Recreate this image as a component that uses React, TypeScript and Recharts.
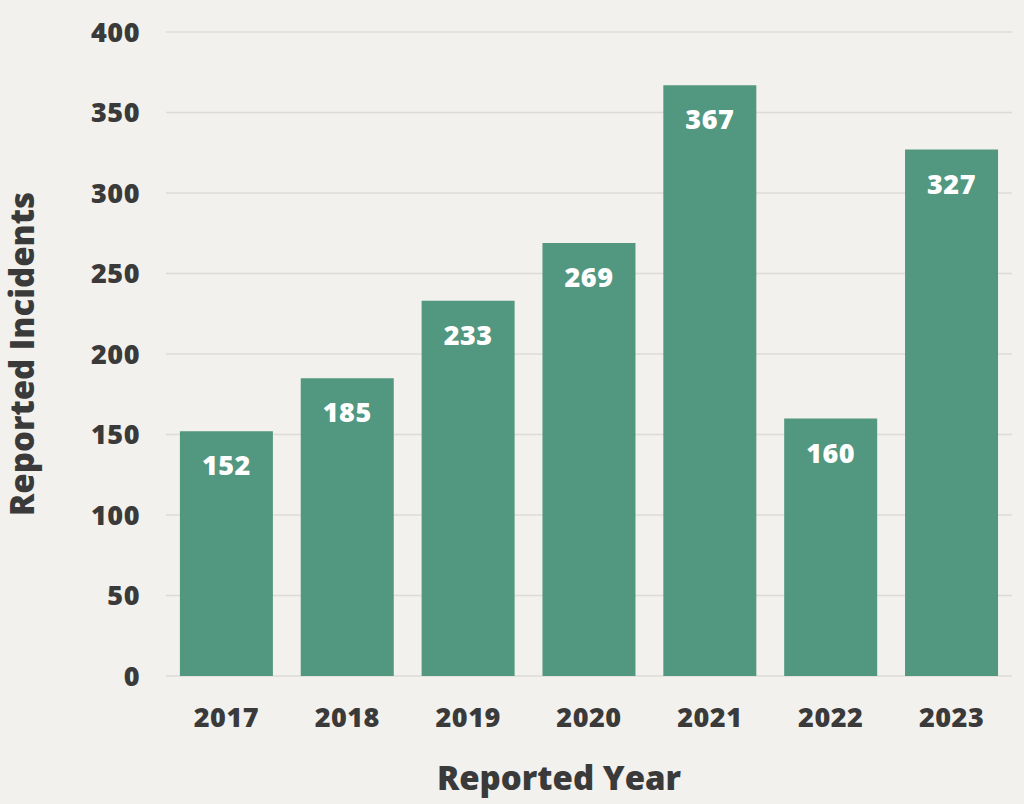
import React from "react";
import { BarChart, Bar, XAxis, YAxis, CartesianGrid, LabelList, Label } from "recharts";

const years = ["2017", "2018", "2019", "2020", "2021", "2022", "2023"];
const incidents = [152, 185, 233, 269, 367, 160, 327];
const yTicks = [0, 50, 100, 150, 200, 250, 300, 350, 400];

const data = years.map((year, i) => ({ year, incidents: incidents[i] }));

const FONT = "'Open Sans', Lato, sans-serif";
const INK = "#3a3a3a";

export default function App() {
  return (
    <div
      style={{
        position: "absolute",
        left: 0,
        top: 0,
        width: 1024,
        height: 804,
        background: "#f2f1ee",
        fontFamily: FONT,
      }}
    >
      <BarChart
        width={1024}
        height={804}
        data={data}
        margin={{ top: 32, right: 12, bottom: 0, left: 0 }}
        barCategoryGap="11.5%"
      >
        <CartesianGrid vertical={false} stroke="#dcdbd8" strokeWidth={1.5} />
        <XAxis
          dataKey="year"
          height={128}
          axisLine={false}
          tickLine={false}
          tickMargin={26}
          tick={{ fill: INK, fontSize: 27, fontWeight: 800, fontFamily: FONT, letterSpacing: 0.5 }}
        >
          <Label
            value="Reported Year"
            position="insideBottom"
            offset={14}
            dx={-30}
            style={{ fill: INK, fontSize: 33, fontWeight: 800, fontFamily: FONT }}
          />
        </XAxis>
        <YAxis
          width={166}
          domain={[0, 400]}
          ticks={yTicks}
          axisLine={false}
          tickLine={false}
          tickMargin={20}
          tick={{ fill: INK, fontSize: 27, fontWeight: 800, fontFamily: FONT, letterSpacing: 0.5 }}
        >
          <Label
            value="Reported Incidents"
            angle={-90}
            position="insideLeft"
            offset={22}
            style={{ fill: INK, fontSize: 33, fontWeight: 800, fontFamily: FONT, textAnchor: "middle" }}
          />
        </YAxis>
        <Bar dataKey="incidents" fill="#52977f" isAnimationActive={false}>
          <LabelList
            dataKey="incidents"
            position="insideTop"
            offset={25}
            style={{ fill: "#ffffff", fontSize: 27, fontWeight: 800, fontFamily: FONT, letterSpacing: 0.5 }}
          />
        </Bar>
      </BarChart>
    </div>
  );
}
